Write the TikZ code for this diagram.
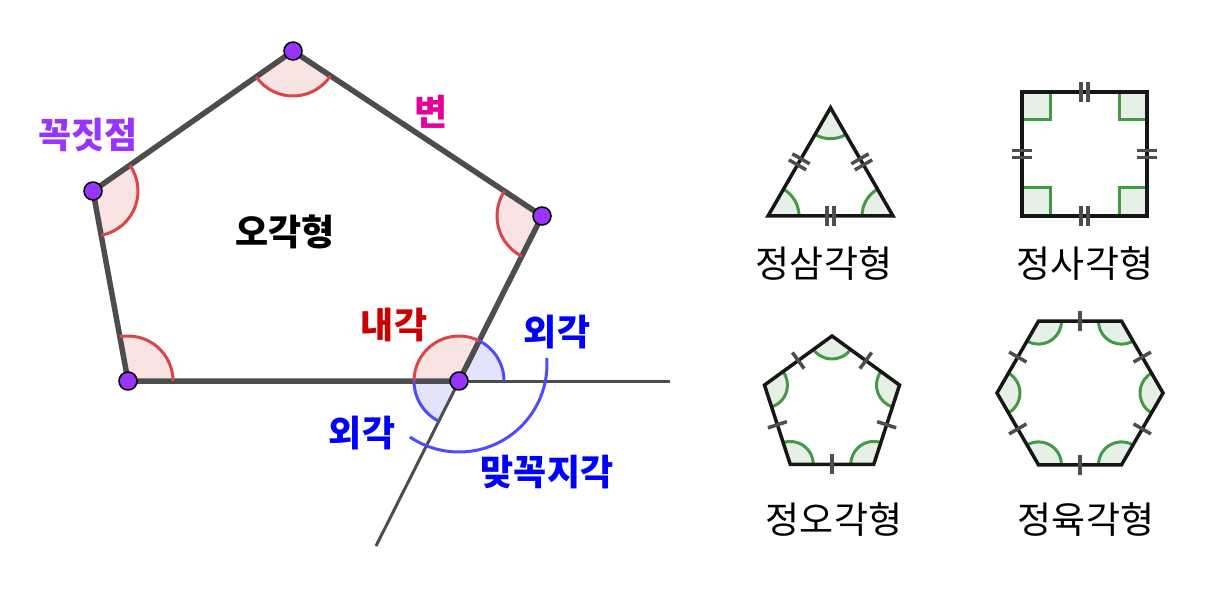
\documentclass[tikz,border=0pt]{standalone}
\usepackage{fontspec}
\newfontfamily\kr{Noto Sans CJK KR}
\usetikzlibrary{calc}

\definecolor{edgegray}{HTML}{4D4D4D}
\definecolor{ptpurple}{HTML}{9933FF}
\definecolor{lblpink}{HTML}{E6009A}
\definecolor{lblred}{HTML}{CC0000}
\definecolor{lblblue}{HTML}{0000FF}
\definecolor{intline}{HTML}{DB4545}
\definecolor{intbg}{HTML}{F9E3E3}
\definecolor{extline}{HTML}{4D4DFF}
\definecolor{extbg}{HTML}{E3E3FB}
\definecolor{regline}{HTML}{449A44}
\definecolor{regbg}{HTML}{E6F0E6}
\definecolor{regside}{HTML}{161616}

\tikzset{
  edge/.style={line width=5.5pt, edgegray, line join=round},
  extended/.style={line width=3pt, edgegray},
  vertex/.style={circle, fill=ptpurple, draw=black, line width=1.5pt, inner sep=0pt, minimum size=18pt},
  intarc/.style={line width=3pt, intline},
  extarc/.style={line width=3pt, extline},
  regarc/.style={line width=3pt, regline},
  polyside/.style={line width=3.5pt, regside, line join=miter},
  tickmark/.style={line width=3.5pt, edgegray},
  boldlbl/.style={font=\kr\bfseries\fontsize{36}{40}\selectfont, inner sep=0pt},
  shapelbl/.style={font=\kr\fontsize{37}{41}\selectfont, inner sep=0pt}
}

\begin{document}
\begin{tikzpicture}[x=1pt, y=1pt]
        \useasboundingbox (0,0) rectangle (1228,598);

        % Vertices of the pentagon
        \coordinate (T) at (293,547);
        \coordinate (L) at (93,407);
        \coordinate (R) at (542,382);
        \coordinate (BL) at (128,217);
        \coordinate (BR) at (459,217);
        % Free ends of the extended sides
        \coordinate (E1) at (670,217);
        \coordinate (E2) at (376,52);

        % Interior angles (filled sectors)
        \fill[intbg] (T) -- ++(215:45) arc[start angle=215, end angle=326.5, radius=45] -- cycle;
        \fill[intbg] (L) -- ++(-79.6:45) arc[start angle=-79.6, end angle=35, radius=45] -- cycle;
        \fill[intbg] (R) -- ++(146.5:45) arc[start angle=146.5, end angle=243.3, radius=45] -- cycle;
        \fill[intbg] (BL) -- ++(0:45) arc[start angle=0, end angle=100.4, radius=45] -- cycle;
        \fill[intbg] (BR) -- ++(63.3:45) arc[start angle=63.3, end angle=180, radius=45] -- cycle;

        % Exterior angle and its vertical angle
        \fill[extbg] (BR) -- ++(0:45) arc[start angle=0, end angle=63.3, radius=45] -- cycle;
        \fill[extbg] (BR) -- ++(180:45) arc[start angle=180, end angle=243.3, radius=45] -- cycle;

        % Extended sides
        \draw[extended] (BR) -- (E1);
        \draw[extended] (BR) -- (E2);

        % Sides
        \draw[edge] (T) -- (R) -- (BR) -- (BL) -- (L) -- cycle;

        % Angle arcs
        \draw[intarc] (T) ++(215:45) arc[start angle=215, end angle=326.5, radius=45];
        \draw[intarc] (L) ++(-79.6:45) arc[start angle=-79.6, end angle=35, radius=45];
        \draw[intarc] (R) ++(146.5:45) arc[start angle=146.5, end angle=243.3, radius=45];
        \draw[intarc] (BL) ++(0:45) arc[start angle=0, end angle=100.4, radius=45];
        \draw[intarc] (BR) ++(63.3:45) arc[start angle=63.3, end angle=180, radius=45];
        \draw[extarc] (BR) ++(0:45) arc[start angle=0, end angle=63.3, radius=45];
        \draw[extarc] (BR) ++(180:45) arc[start angle=180, end angle=243.3, radius=45];
        \draw[extarc] (459,234) ++(4:88) arc[start angle=4, end angle=-124, radius=88];

        % Vertex points
        \node[vertex] (pT) at (T) {};
        \node[vertex] (pL) at (L) {};
        \node[vertex] (pR) at (R) {};
        \node[vertex] (pBL) at (BL) {};
        \node[vertex] (pBR) at (BR) {};

        % Labels
        \node[boldlbl, text=ptpurple] (vertexlbl) at (88,463) {꼭짓점};
        \node[boldlbl, text=lblpink] (sidelbl) at (431,486) {변};
        \node[boldlbl, text=black] (pentlbl) at (285,366) {오각형};
        \node[boldlbl, text=lblred] (intlbl) at (394,273) {내각};
        \node[boldlbl, text=lblblue] (extlbl) at (557,266) {외각};
        \node[boldlbl, text=lblblue] (extlbltwo) at (362,165) {외각};
        \node[boldlbl, text=lblblue] (vertlbl) at (547,126) {맞꼭지각};

        % Equilateral triangle
        \coordinate (tri1) at (768,382);
        \coordinate (tri2) at (893,382);
        \coordinate (tri3) at (830.5,490.3);
        \foreach \v/\a in {tri1/0, tri2/120, tri3/240} {
            \fill[regbg] (\v) -- ++(\a:31) arc[start angle=\a, end angle=\a+60, radius=31] -- cycle;
            \draw[regarc] (\v) ++(\a:31) arc[start angle=\a, end angle=\a+60, radius=31];
        }
        \draw[polyside] (tri1) -- (tri2) -- (tri3) -- cycle;
        \foreach \a/\b in {tri1/tri2, tri2/tri3, tri3/tri1}
            \foreach \s in {-3.5,3.5}
                \draw[tickmark] ($(\a)!0.5!(\b)!\s pt!(\b)!10pt!90:(\b)$) -- ($(\a)!0.5!(\b)!\s pt!(\b)!10pt!-90:(\b)$);
        \node[shapelbl] (trilbl) at (824,335) {정삼각형};

        % Square
        \coordinate (sq1) at (1022,382);
        \coordinate (sq2) at (1147,382);
        \coordinate (sq3) at (1147,506);
        \coordinate (sq4) at (1022,506);
        \foreach \v/\sx/\sy in {sq1/1/1, sq2/-1/1, sq3/-1/-1, sq4/1/-1} {
            \fill[regbg] (\v) rectangle ++({28*\sx},{28*\sy});
            \draw[regarc] (\v) ++({28*\sx},0) -- ++(0,{28*\sy}) -- ++({-28*\sx},0);
        }
        \draw[polyside] (sq1) -- (sq2) -- (sq3) -- (sq4) -- cycle;
        \foreach \a/\b in {sq1/sq2, sq2/sq3, sq3/sq4, sq4/sq1}
            \foreach \s in {-3.5,3.5}
                \draw[tickmark] ($(\a)!0.5!(\b)!\s pt!(\b)!10pt!90:(\b)$) -- ($(\a)!0.5!(\b)!\s pt!(\b)!10pt!-90:(\b)$);
        \node[shapelbl] (sqlbl) at (1085,335) {정사각형};

        % Regular pentagon
        \coordinate (pc) at (832,191);
        \foreach \k in {0,...,4}
            \coordinate (pen\k) at ($(pc)+(90+72*\k:71)$);
        \foreach \k in {0,...,4} {
            \fill[regbg] (pen\k) -- ++(90+72*\k+126:23) arc[start angle=90+72*\k+126, end angle=90+72*\k+234, radius=23] -- cycle;
            \draw[regarc] (pen\k) ++(90+72*\k+126:23) arc[start angle=90+72*\k+126, end angle=90+72*\k+234, radius=23];
        }
        \draw[polyside] (pen0) -- (pen1) -- (pen2) -- (pen3) -- (pen4) -- cycle;
        \foreach \a/\b in {pen0/pen1, pen1/pen2, pen2/pen3, pen3/pen4, pen4/pen0}
            \draw[tickmark] ($(\a)!0.5!(\b)!10pt!90:(\b)$) -- ($(\a)!0.5!(\b)!10pt!-90:(\b)$);
        \node[shapelbl] (penlbl) at (834,79) {정오각형};

        % Regular hexagon
        \coordinate (hc) at (1080,205);
        \foreach \k in {0,...,5}
            \coordinate (hex\k) at ($(hc)+(60*\k:83)$);
        \foreach \k in {0,...,5} {
            \fill[regbg] (hex\k) -- ++(60*\k+120:23) arc[start angle=60*\k+120, end angle=60*\k+240, radius=23] -- cycle;
            \draw[regarc] (hex\k) ++(60*\k+120:23) arc[start angle=60*\k+120, end angle=60*\k+240, radius=23];
        }
        \draw[polyside] (hex0) -- (hex1) -- (hex2) -- (hex3) -- (hex4) -- (hex5) -- cycle;
        \foreach \a/\b in {hex0/hex1, hex1/hex2, hex2/hex3, hex3/hex4, hex4/hex5, hex5/hex0}
            \draw[tickmark] ($(\a)!0.5!(\b)!10pt!90:(\b)$) -- ($(\a)!0.5!(\b)!10pt!-90:(\b)$);
        \node[shapelbl] (hexlbl) at (1086,79) {정육각형};

    \end{tikzpicture}
\end{document}
